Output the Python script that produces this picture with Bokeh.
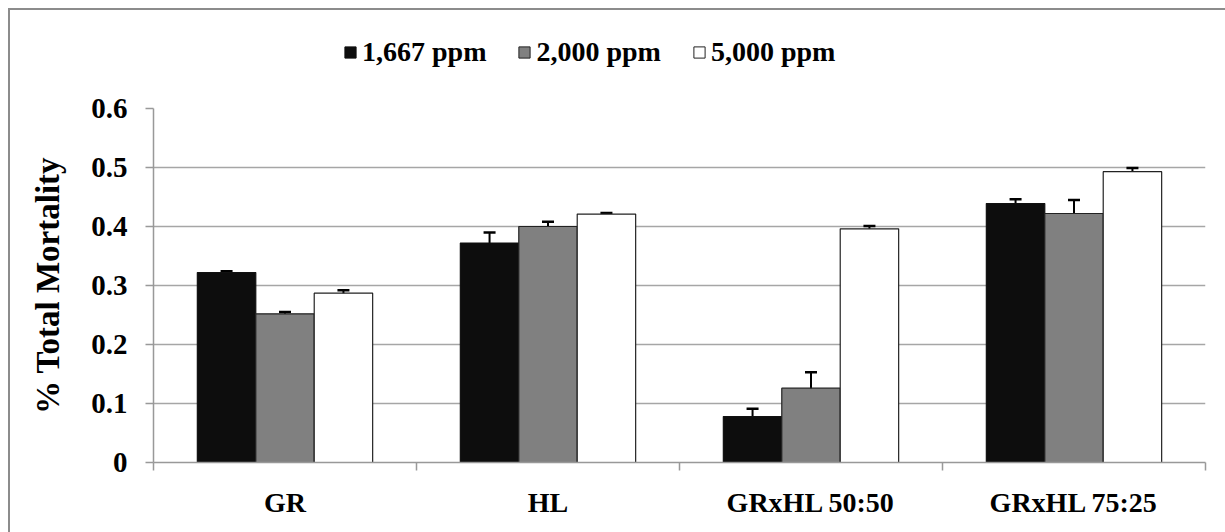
from bokeh.plotting import figure
from bokeh.layouts import column
from bokeh.models import (ColumnDataSource, Whisker, TeeHead, FixedTicker, Legend, LegendItem,
                          CustomJSTickFormatter, Range1d)
from bokeh.embed import file_html
from bokeh.resources import INLINE

categories = ["GR", "HL", "GRxHL 50:50", "GRxHL 75:25"]
series = ["1,667 ppm", "2,000 ppm", "5,000 ppm"]
m1667 = [0.322, 0.372, 0.078, 0.439]
m2000 = [0.252, 0.400, 0.126, 0.422]
m5000 = [0.287, 0.421, 0.396, 0.493]
err1667 = [0.002, 0.018, 0.013, 0.007]
err2000 = [0.003, 0.008, 0.027, 0.023]
err5000 = [0.005, 0.002, 0.005, 0.006]
y_ticks = [0, 0.1, 0.2, 0.3, 0.4, 0.5, 0.6]

colors = ["#0d0d0d", "#808080", "#ffffff"]
edge_colors = ["#111111", "#222222", "#222222"]
offsets = [-0.2222, 0.0, 0.2222]
bar_w = 0.2222
FONT = "Liberation Serif"
BORDER = "#8c8c8c"

all_vals = [m1667, m2000, m5000]
all_errs = [err1667, err2000, err5000]
sources = []
for vals, errs, off in zip(all_vals, all_errs, offsets):
    xs = [i + 0.5 + off for i in range(len(categories))]
    sources.append(dict(x=xs, top=vals,
                        lo=[v - e for v, e in zip(vals, errs)],
                        hi=[v + e for v, e in zip(vals, errs)]))

# ---------------- legend strip (top) ----------------
# same bar series; the strip's ranges put them far off-canvas, so only the legend shows
top = figure(width=1225, height=80, output_backend="svg", toolbar_location=None,
             x_range=Range1d(-1000, -999), y_range=Range1d(1000, 1001),
             x_axis_type=None, y_axis_type=None,
             min_border_left=0, min_border_right=0, min_border_top=0, min_border_bottom=0)
top.border_fill_color = None
top.background_fill_color = None
top.outline_line_color = None
top.xgrid.grid_line_color = None
top.ygrid.grid_line_color = None
top.styles = {"box-shadow": f"inset 8px 8px 0 0 white, inset 10px 10px 0 0 {BORDER}"}

leg_items = []
for d, col, ec, name in zip(sources, colors, edge_colors, series):
    rr = top.vbar(x="x", top="top", width=bar_w, bottom=0, source=ColumnDataSource(dict(d)),
                  fill_color=col, line_color=ec, line_width=1)
    leg_items.append(LegendItem(label=name, renderers=[rr]))

legend = Legend(items=leg_items, orientation="horizontal", location=(190, 12),
                glyph_width=14, glyph_height=14, label_standoff=5, spacing=31,
                padding=0, margin=0, border_line_color=None, background_fill_alpha=0,
                label_text_font=FONT, label_text_font_style="bold",
                label_text_font_size="28px", label_text_color="black")
top.add_layout(legend, "center")

# ---------------- main chart ----------------
p = figure(width=1225, height=452, output_backend="svg", toolbar_location=None,
           x_range=Range1d(0, len(categories)), y_range=Range1d(0, 0.6),
           min_border_left=153, min_border_right=20, min_border_top=28, min_border_bottom=70)
p.border_fill_color = None
p.background_fill_color = None
p.outline_line_color = None
p.styles = {"box-shadow": f"inset 8px 0 0 0 white, inset 10px 0 0 0 {BORDER}"}

for d, col, ec in zip(sources, colors, edge_colors):
    src = ColumnDataSource(dict(d))
    p.vbar(x="x", top="top", width=bar_w, bottom=0, source=src,
           fill_color=col, line_color=ec, line_width=1.2)
    w = Whisker(base="x", lower="lo", upper="hi", source=src, line_color="black", line_width=2,
                upper_head=TeeHead(size=12, line_width=2.5, line_color="black"),
                lower_head=TeeHead(size=12, line_width=2.5, line_color="black"))
    p.add_layout(w)

# grid
p.xgrid.grid_line_color = None
p.ygrid.grid_line_color = "#a6a6a6"
p.ygrid.grid_line_width = 1.5

# y axis
p.yaxis.ticker = FixedTicker(ticks=y_ticks, minor_ticks=[])
p.yaxis.formatter = CustomJSTickFormatter(code="return tick == 0 ? '0' : tick.toFixed(1);")
p.yaxis.axis_label = "% Total Mortality"
p.yaxis.axis_label_text_font = FONT
p.yaxis.axis_label_text_font_style = "bold"
p.yaxis.axis_label_text_font_size = "33px"
p.yaxis.axis_label_text_color = "black"
p.yaxis.axis_label_standoff = 22
p.yaxis.major_label_text_font = FONT
p.yaxis.major_label_text_font_style = "bold"
p.yaxis.major_label_text_font_size = "29px"
p.yaxis.major_label_text_color = "black"
p.yaxis.major_label_standoff = 18
p.yaxis.axis_line_color = "#999999"
p.yaxis.axis_line_width = 1.5
p.yaxis.major_tick_line_color = "#999999"
p.yaxis.major_tick_line_width = 1.5
p.yaxis.major_tick_out = 8
p.yaxis.major_tick_in = 0
p.yaxis.minor_tick_line_color = None

# x axis
p.xaxis.ticker = FixedTicker(ticks=[i + 0.5 for i in range(len(categories))],
                             minor_ticks=list(range(len(categories) + 1)))
p.xaxis.major_label_overrides = {i + 0.5: c for i, c in enumerate(categories)}
p.xaxis.major_label_text_font = FONT
p.xaxis.major_label_text_font_style = "bold"
p.xaxis.major_label_text_font_size = "28px"
p.xaxis.major_label_text_color = "black"
p.xaxis.major_label_standoff = 16
p.xaxis.major_tick_out = 0
p.xaxis.major_tick_in = 0
p.xaxis.major_tick_line_color = None
p.xaxis.minor_tick_out = 8
p.xaxis.minor_tick_in = 0
p.xaxis.minor_tick_line_color = "#999999"
p.xaxis.minor_tick_line_width = 1.5
p.xaxis.axis_line_color = "#999999"
p.xaxis.axis_line_width = 1.5

layout = column(top, p, spacing=0)
open("out.html", "w").write(file_html(layout, INLINE))
